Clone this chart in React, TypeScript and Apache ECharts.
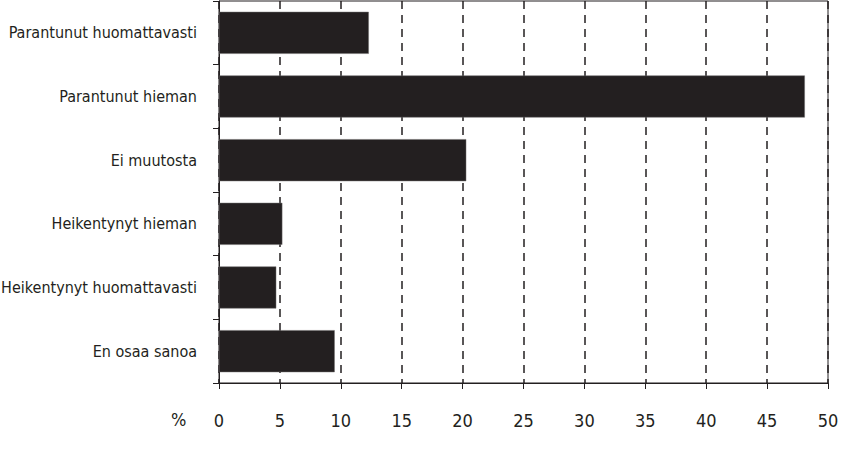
import React, { useEffect, useRef } from 'react';
import * as echarts from 'echarts';

const INK = '#231f20';
const FONT = "'DejaVu Sans Condensed', 'Liberation Sans Narrow', sans-serif";

const categories = [
  'Parantunut huomattavasti',
  'Parantunut hieman',
  'Ei muutosta',
  'Heikentynyt hieman',
  'Heikentynyt huomattavasti',
  'En osaa sanoa',
];
const values = [12.3, 48.1, 20.3, 5.2, 4.7, 9.5];

const App: React.FC = () => {
  const divEL = useRef<HTMLDivElement>(null);

  useEffect(() => {
    document.body.style.margin = '0';
    const instance = echarts.init(divEL.current as any, null, { renderer: 'svg' });
    const option: any = {
      animation: false,
      backgroundColor: '#ffffff',
      grid: {
        left: 219,
        right: 16,
        top: 1,
        bottom: 79,
        containLabel: false,
        outerBoundsMode: 'none',
        show: true,
        borderColor: INK,
        borderWidth: 1,
      },
      xAxis: {
        type: 'value',
        min: 0,
        max: 50,
        interval: 5,
        axisLine: { show: true, lineStyle: { color: INK, width: 1 } },
        axisTick: { show: true, length: 6, lineStyle: { color: INK } },
        axisLabel: {
          color: INK,
          fontFamily: FONT,
          fontSize: 18,
          margin: 28,
        },
        splitLine: {
          show: true,
          lineStyle: { color: INK, type: [8, 6], width: 1.5 },
        },
      },
      yAxis: {
        type: 'category',
        inverse: true,
        data: categories,
        axisLine: { show: true, lineStyle: { color: INK, width: 1 } },
        axisTick: { show: true, length: 6, lineStyle: { color: INK } },
        axisLabel: {
          color: INK,
          fontFamily: FONT,
          fontSize: 16,
          margin: 22,
        },
      },
      graphic: [
        {
          type: 'text',
          left: 171,
          top: 410,
          style: { text: '%', fill: INK, font: `18px ${FONT}` },
        },
      ],
      series: [
        {
          type: 'bar',
          data: values,
          barCategoryGap: '34%',
          itemStyle: { color: INK, borderColor: '#6d6a6a', borderWidth: 0.5 },
        },
      ],
    };
    instance.setOption(option);
    return () => {
      instance.dispose();
    };
  }, []);

  return <div ref={divEL} style={{ width: 844, height: 462 }}></div>;
};

export default App;
